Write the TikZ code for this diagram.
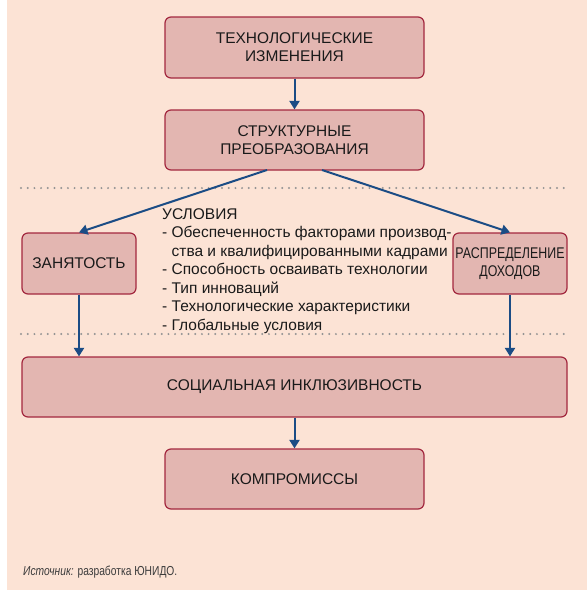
\documentclass[tikz,border=0pt]{standalone}
\usepackage{fontspec}
\usepackage{graphicx}
\setmainfont{Liberation Sans}
\usetikzlibrary{arrows.meta}
\definecolor{bg}{HTML}{FCE3D5}
\definecolor{boxfill}{HTML}{E3B6B1}
\definecolor{boxdraw}{HTML}{A3283F}
\definecolor{arr}{HTML}{1B4C85}
\definecolor{dotc}{HTML}{939393}
\definecolor{txt}{HTML}{1A1A1A}
\begin{document}
\begin{tikzpicture}[x=1pt,y=-1pt,
 box/.style={draw=boxdraw, fill=boxfill, line width=1.2pt, rounded corners=6pt, align=center, inner sep=0pt, text=txt, font=\fontsize{15.5}{18.3}\selectfont},
 arrowline/.style={draw=arr, line width=2pt, -{Triangle[length=8.5pt,width=10pt]}},
 sepline/.style={draw=dotc, line width=2.2pt, line cap=round, dash pattern=on 0pt off 6.7pt}]
\useasboundingbox (0,0) rectangle (587,600);
\fill[bg] (7,0) rectangle (587,590);
\node[box, minimum width=259pt, minimum height=61pt] (t1) at (294.5,47.5) {ТЕХНОЛОГИЧЕСКИЕ\\ИЗМЕНЕНИЯ};
\node[box, minimum width=259pt, minimum height=60pt] (t2) at (294.5,140) {СТРУКТУРНЫЕ\\ПРЕОБРАЗОВАНИЯ};
\node[box, minimum width=114pt, minimum height=61pt] (zan) at (79,263.5) {ЗАНЯТОСТЬ};
\node[box, minimum width=114pt, minimum height=61pt] (dist) at (510,263.5) {\scalebox{0.8}[1]{РАСПРЕДЕЛЕНИЕ}\\\scalebox{0.8}[1]{ДОХОДОВ}};
\node[box, minimum width=545pt, minimum height=60pt] (soc) at (294.5,387) {СОЦИАЛЬНАЯ ИНКЛЮЗИВНОСТЬ};
\node[box, minimum width=259pt, minimum height=60pt] (comp) at (294.5,479) {КОМПРОМИССЫ};
\draw[sepline] (21,188) coordinate (d1a) -- (567,188) coordinate (d1b);
\draw[sepline] (21,334) coordinate (d2a) -- (567,334) coordinate (d2b);
\node[anchor=north west, align=left, inner sep=0pt, text=txt, font=\fontsize{15.5}{18.5}\selectfont] (cond) at (162,208.2)
 {УСЛОВИЯ\\- Обеспеченность факторами производ-\\\phantom{- }ства и квалифицированными кадрами\\- Способность осваивать технологии\\- Тип инноваций\\- Технологические характеристики\\- Глобальные условия};
\coordinate (s1) at (267,170);
\coordinate (s2) at (322,170);
\draw[arrowline] (t1) -- (t2);
\draw[arrowline] (s1) -- (zan.north);
\draw[arrowline] (s2) -- (dist.north);
\draw[arrowline] (zan.south) -- (zan.south |- soc.north);
\draw[arrowline] (dist.south) -- (dist.south |- soc.north);
\draw[arrowline] (soc) -- (comp);
\node[anchor=west, inner sep=0pt, text=txt!85] (src) at (23,572) {\fontsize{13}{15}\selectfont\scalebox{0.79}[1]{\textit{Источник:} разработка ЮНИДО.}};
\end{tikzpicture}
\end{document}
